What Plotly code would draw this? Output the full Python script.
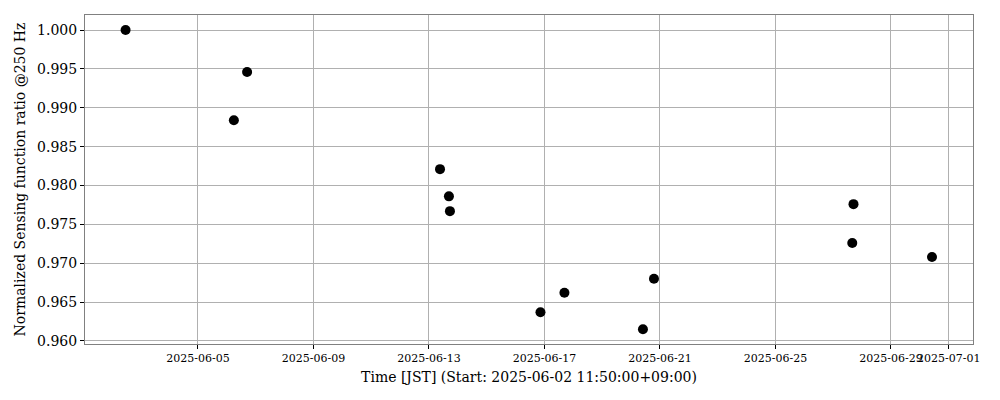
import plotly.graph_objects as go

times = [
    "2025-06-02 11:50", "2025-06-06 05:50", "2025-06-06 16:50",
    "2025-06-13 09:10", "2025-06-13 16:35", "2025-06-13 17:25",
    "2025-06-16 20:40", "2025-06-17 16:35", "2025-06-20 09:50",
    "2025-06-20 19:00", "2025-06-27 15:50", "2025-06-27 16:50",
    "2025-06-30 10:05",
]
ratios = [
    1.0000, 0.9884, 0.9946,
    0.9821, 0.9786, 0.9767,
    0.9637, 0.9662, 0.9615,
    0.9680, 0.9726, 0.9776,
    0.9708,
]
x_ticks = ["2025-06-05", "2025-06-09", "2025-06-13", "2025-06-17",
           "2025-06-21", "2025-06-25", "2025-06-29", "2025-07-01"]
y_ticks = [0.960, 0.965, 0.970, 0.975, 0.980, 0.985, 0.990, 0.995, 1.000]

fig = go.Figure(go.Scatter(
    x=times, y=ratios, mode="markers",
    marker=dict(color="black", size=10),
))

font = "DejaVu Serif"
fig.update_layout(
    width=1000, height=400,
    margin=dict(l=77, r=35, t=7, b=64),
    plot_bgcolor="white", paper_bgcolor="white",
    showlegend=False,
    font=dict(family=font, color="black"),
)
fig.update_xaxes(
    range=["2025-06-01 02:06", "2025-07-01 20:10"],
    tickvals=x_ticks, ticktext=x_ticks, tickangle=0,
    tickfont=dict(size=11, family=font),
    showgrid=True, gridcolor="#b0b0b0", gridwidth=1,
    showline=True, linecolor="#808080", linewidth=1, mirror=True,
    ticks="outside", ticklen=4, tickcolor="black",
    title=dict(text="Time [JST] (Start: 2025-06-02 11:50:00+09:00)",
               font=dict(size=14, family=font), standoff=7),
    zeroline=False, automargin=False,
)
fig.update_yaxes(
    range=[0.95961, 1.00193],
    tickvals=y_ticks, ticktext=[f"{v:.3f}" for v in y_ticks],
    tickfont=dict(size=14, family=font),
    showgrid=True, gridcolor="#b0b0b0", gridwidth=1,
    showline=True, linecolor="#808080", linewidth=1, mirror=True,
    ticks="outside", ticklen=4, tickcolor="black",
    title=dict(text="Normalized Sensing function ratio @250 Hz",
               font=dict(size=14, family=font), standoff=8),
    zeroline=False, automargin=False,
)
fig.write_html("out.html")
